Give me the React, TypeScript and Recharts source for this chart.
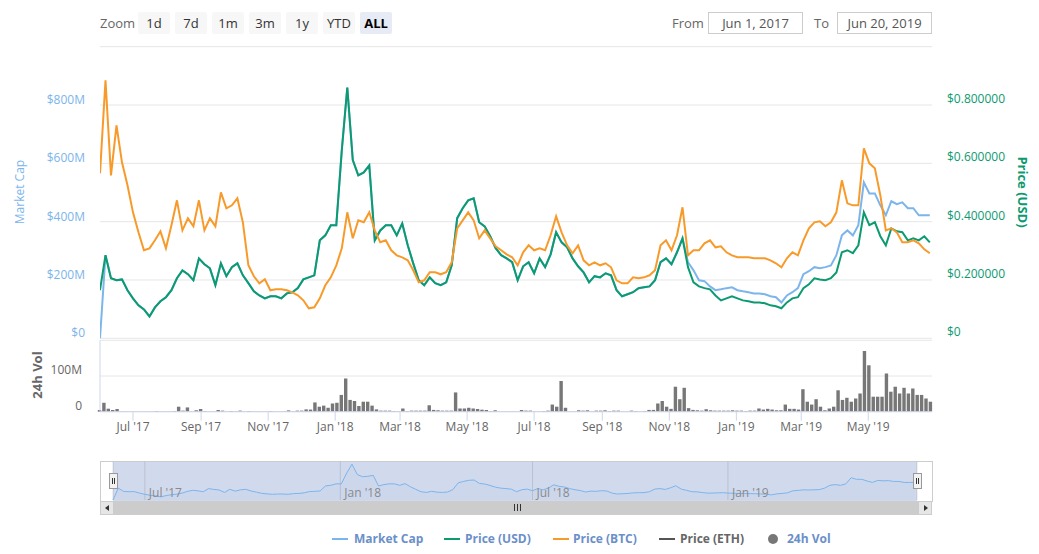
import React from 'react'
import { Area, AreaChart, Bar, BarChart, CartesianGrid, ComposedChart, Line, XAxis, YAxis } from 'recharts'

const W = 1039
const H = 554
const FONT = "'Open Sans', sans-serif"

const DAY = 86400000
const START = Date.UTC(2017, 5, 1)
const END = START + 757 * DAY

// line series read every 5 days, volume every 4 days, from Jun 1, 2017
const LINE_STEP = 5
const VOL_STEP = 4

const monthTicks = [
  Date.UTC(2017, 6, 1), Date.UTC(2017, 8, 1), Date.UTC(2017, 10, 1),
  Date.UTC(2018, 0, 1), Date.UTC(2018, 2, 1), Date.UTC(2018, 4, 1),
  Date.UTC(2018, 6, 1), Date.UTC(2018, 8, 1), Date.UTC(2018, 10, 1),
  Date.UTC(2019, 0, 1), Date.UTC(2019, 2, 1), Date.UTC(2019, 4, 1),
]
const navTicks = [Date.UTC(2017, 6, 1), Date.UTC(2018, 0, 1), Date.UTC(2018, 6, 1), Date.UTC(2019, 0, 1)]
const monthNames = ['Jan', 'Feb', 'Mar', 'Apr', 'May', 'Jun', 'Jul', 'Aug', 'Sep', 'Oct', 'Nov', 'Dec']

const mcTicks = [0, 200, 400, 600, 800, 1000]
const usdTicks = [0, 0.2, 0.4, 0.6, 0.8, 1]
const volTicks = [0, 100, 200]

const zoomButtons = ['1d', '7d', '1m', '3m', '1y', 'YTD', 'ALL']

// market cap, $M
const marketCapM = [
  0, 285, 206, 199, 202, 165, 137, 113, 99, 75,
  106, 127, 141, 165, 206, 233, 220, 199, 274, 254,
  240, 182, 257, 213, 244, 257, 216, 189, 161, 147,
  137, 144, 144, 137, 154, 158, 172, 202, 209, 216,
  336, 353, 388, 388, 645, 860, 611, 559, 569, 593,
  336, 370, 388, 388, 353, 394, 319, 257, 199, 182,
  209, 189, 182, 192, 250, 412, 446, 473, 480, 398,
  384, 350, 309, 285, 274, 261, 199, 247, 261, 223,
  274, 244, 288, 364, 329, 312, 274, 247, 226, 192,
  213, 209, 223, 216, 165, 144, 151, 158, 172, 175,
  178, 199, 261, 274, 254, 295, 343, 261, 233, 199,
  196, 178, 165, 168, 172, 175, 165, 161, 158, 154,
  154, 151, 144, 141, 123, 147, 158, 172, 220, 230,
  244, 240, 244, 250, 285, 353, 370, 353, 388, 535,
  497, 497, 456, 422, 470, 460, 466, 446, 446, 422,
  422, 422,
]

// price, USD
const priceUsd = [
  0.165, 0.285, 0.206, 0.199, 0.202, 0.165, 0.137, 0.113, 0.099, 0.075,
  0.106, 0.127, 0.141, 0.165, 0.206, 0.233, 0.220, 0.199, 0.274, 0.254,
  0.240, 0.182, 0.257, 0.213, 0.244, 0.257, 0.216, 0.189, 0.161, 0.147,
  0.137, 0.144, 0.144, 0.137, 0.154, 0.158, 0.172, 0.202, 0.209, 0.216,
  0.336, 0.353, 0.388, 0.388, 0.645, 0.860, 0.611, 0.559, 0.569, 0.593,
  0.336, 0.370, 0.388, 0.388, 0.353, 0.394, 0.319, 0.257, 0.199, 0.182,
  0.209, 0.189, 0.182, 0.192, 0.250, 0.412, 0.446, 0.473, 0.480, 0.398,
  0.384, 0.350, 0.309, 0.285, 0.274, 0.261, 0.199, 0.247, 0.261, 0.223,
  0.274, 0.244, 0.288, 0.364, 0.329, 0.312, 0.274, 0.247, 0.226, 0.192,
  0.213, 0.209, 0.223, 0.216, 0.165, 0.144, 0.151, 0.158, 0.172, 0.175,
  0.178, 0.199, 0.261, 0.274, 0.254, 0.295, 0.343, 0.244, 0.192, 0.178,
  0.172, 0.168, 0.147, 0.130, 0.137, 0.144, 0.137, 0.130, 0.127, 0.123,
  0.123, 0.120, 0.113, 0.110, 0.103, 0.123, 0.137, 0.141, 0.172, 0.185,
  0.206, 0.202, 0.199, 0.206, 0.226, 0.295, 0.302, 0.292, 0.319, 0.432,
  0.388, 0.398, 0.350, 0.319, 0.377, 0.367, 0.364, 0.336, 0.343, 0.336,
  0.350, 0.329,
]

// price, satoshi
const priceBtcSats = [
  7072, 11058, 6986, 9129, 7543, 6558, 5400, 4543, 3772, 3857,
  4200, 4586, 3857, 4843, 5915, 4629, 5143, 4800, 5915, 4629,
  5143, 4800, 6258, 5572, 5700, 6000, 4972, 3129, 2657, 2357,
  2529, 2057, 2100, 2100, 2057, 1972, 1843, 1629, 1286, 1329,
  1714, 2272, 2614, 3129, 3857, 5400, 4286, 5057, 4972, 5400,
  4629, 4115, 4200, 3772, 3557, 3472, 3343, 2914, 2400, 2486,
  2829, 2829, 2743, 2829, 3257, 4715, 5057, 5400, 5057, 4286,
  4629, 4286, 3943, 3772, 3600, 3472, 3129, 3686, 3986, 3772,
  3857, 3772, 4415, 5229, 4543, 3986, 3643, 3986, 3343, 3129,
  3257, 3129, 3215, 3043, 2486, 2357, 2357, 2614, 2572, 2614,
  2700, 2914, 3986, 4200, 3772, 4415, 5615, 3557, 3772, 3772,
  4072, 4200, 3900, 3943, 3686, 3557, 3472, 3472, 3472, 3429,
  3429, 3429, 3343, 3215, 3043, 3429, 3686, 3557, 4200, 4715,
  4972, 5015, 4800, 4972, 5400, 6772, 5786, 5700, 5700, 8143,
  7500, 7286, 6129, 4629, 4715, 4543, 4115, 4115, 4200, 4072,
  3815, 3643,
]

// 24h volume, $M
const volumeM = [
  4.7, 25, 8.4, 4.7, 7.5, 0.5, 0.5, 0.3, 0.3, 0.3,
  0.3, 0.5, 0.5, 1.9, 0.5, 0.5, 0.5, 1.9, 14, 3,
  12, 0.5, 4, 7.5, 2, 0.5, 0.5, 4.7, 3, 0.5,
  2, 1, 3, 0.5, 2, 0.5, 0.5, 0.5, 0.5, 2,
  0.5, 0.5, 1, 3.7, 1, 3, 3, 6.5, 6, 26,
  14, 17, 11, 23, 25, 47, 93, 33, 30, 16,
  28, 28, 17, 6.5, 3, 3, 3, 2, 1, 9,
  2, 3, 3, 3, 3, 18, 5, 4, 3, 3,
  3, 54, 9, 9, 11, 9, 7.5, 5.6, 4.7, 2,
  4, 0.5, 0.5, 0.5, 0.5, 0.5, 4.7, 3, 3, 0.5,
  0.5, 2, 3, 20, 14, 86, 11, 0.5, 0.5, 4,
  3, 4, 1, 3, 3, 4, 2, 3, 3, 0.5,
  0.5, 3, 2, 0.5, 2, 5, 5, 23, 30, 14,
  8, 70, 35, 67, 10, 5, 4, 3, 7, 4,
  3, 3, 3, 3, 4, 3, 3, 2, 3, 3,
  9, 6, 8, 6, 4, 4, 20, 8, 8, 6,
  63, 28, 20, 35, 14, 4, 9, 14, 60, 33,
  39, 28, 37, 51, 170, 130, 42, 42, 42, 107,
  56, 70, 51, 67, 51, 65, 47, 47, 37, 28,
]

const COLORS = {
  mc: '#7cb5ec',
  usd: '#0c9a70',
  btc: '#f89a2a',
  eth: '#555555',
  vol: '#777777',
  legend: '#6b8fc9',
}

const lineData = priceUsd.map((usd, i) => ({
  t: START + i * LINE_STEP * DAY,
  mc: marketCapM[i],
  usd,
  btc: priceBtcSats[i],
}))
const volData = volumeM.map((vol, i) => ({ t: START + i * VOL_STEP * DAY, vol }))

const fmtMonth = (t: number) => {
  const d = new Date(t)
  return `${monthNames[d.getUTCMonth()]} '${String(d.getUTCFullYear()).slice(2)}`
}

const mcTick = (p: any) => {
  const v = p.payload.value
  if (v === 1000) return <g />
  return (
    <text x={p.x} y={p.y - 1} textAnchor="end" fill={COLORS.mc} fontSize={12} fontFamily={FONT}>
      {v === 0 ? '$0' : `$${v}M`}
    </text>
  )
}

const usdTick = (p: any) => {
  const v = p.payload.value
  if (v === 1) return <g />
  return (
    <text x={p.x} y={p.y - 2} textAnchor="start" fill={COLORS.usd} fontSize={12} fontFamily={FONT}>
      {v === 0 ? '$0' : `$${v.toFixed(6)}`}
    </text>
  )
}

const volTick = (p: any) => {
  const v = p.payload.value
  if (v === 200) return <g />
  return (
    <text x={p.x} y={p.y - 2} textAnchor="end" fill="#666" fontSize={12} fontFamily={FONT}>
      {v === 0 ? '0' : `${v}M`}
    </text>
  )
}

const xTick = (p: any) => (
  <text x={p.x} y={p.y} dy={8.5} textAnchor="middle" fill="#666" fontSize={12} fontFamily={FONT}>
    {fmtMonth(p.payload.value)}
  </text>
)

const navTick = (p: any) => (
  <text x={p.x + 4} y={p.y - 3} textAnchor="start" fill="#8a8a8a" fontSize={12} fontFamily={FONT}>
    {fmtMonth(p.payload.value)}
  </text>
)

const layer: React.CSSProperties = { position: 'absolute', left: 0, top: 0 }

function Handle({ x }: { x: number }) {
  return (
    <div style={{ position: 'absolute', left: x - 4, top: 473, width: 7, height: 14, background: '#f2f2f2', border: '1px solid #999' }}>
      <div style={{ position: 'absolute', left: 2, top: 4, width: 1, height: 6, background: '#333' }} />
      <div style={{ position: 'absolute', left: 4, top: 4, width: 1, height: 6, background: '#333' }} />
    </div>
  )
}

function RotatedLabel({ x, y, angle, color, bold, size, text }: any) {
  return (
    <div
      style={{
        position: 'absolute', left: x, top: y, transform: `translate(-50%, -50%) rotate(${angle}deg)`,
        color, fontWeight: bold ? 700 : 400, fontSize: size, whiteSpace: 'nowrap', lineHeight: 1,
      }}
    >
      {text}
    </div>
  )
}

const legendItems = [
  { label: 'Market Cap', color: COLORS.mc, x: 332, tx: 354, text: COLORS.legend, kind: 'line' },
  { label: 'Price (USD)', color: COLORS.usd, x: 444, tx: 465, text: COLORS.legend, kind: 'line' },
  { label: 'Price (BTC)', color: COLORS.btc, x: 553, tx: 573, text: COLORS.legend, kind: 'line' },
  { label: 'Price (ETH)', color: COLORS.eth, x: 659, tx: 680, text: '#666', kind: 'line' },
  { label: '24h Vol', color: COLORS.vol, x: 768, tx: 787, text: COLORS.legend, kind: 'dot' },
]

export default function App() {
  return (
    <div style={{ position: 'absolute', left: 0, top: 0, width: W, height: H, fontFamily: FONT, background: '#fff', overflow: 'hidden' }}>
      {/* range selector */}
      <div style={{ position: 'absolute', left: 100, top: 13, fontSize: 13, color: '#666', lineHeight: '20px' }}>Zoom</div>
      {zoomButtons.map((b, i) => (
        <div
          key={b}
          style={{
            position: 'absolute', left: 138 + i * 37, top: 12, width: 32, height: 22, lineHeight: '22px',
            textAlign: 'center', fontSize: 13, borderRadius: 2,
            background: b === 'ALL' ? '#e6ebf5' : '#f7f7f7',
            color: b === 'ALL' ? '#000' : '#333', fontWeight: b === 'ALL' ? 700 : 400,
          }}
        >
          {b}
        </div>
      ))}
      <div style={{ position: 'absolute', left: 672, top: 13, fontSize: 13, color: '#666', lineHeight: '20px' }}>From</div>
      <div style={{ position: 'absolute', left: 708, top: 12, width: 93, height: 20, border: '1px solid #ccc', fontSize: 13, color: '#555', textAlign: 'center', lineHeight: '20px' }}>Jun 1, 2017</div>
      <div style={{ position: 'absolute', left: 814, top: 13, fontSize: 13, color: '#666', lineHeight: '20px' }}>To</div>
      <div style={{ position: 'absolute', left: 837, top: 12, width: 93, height: 20, border: '1px solid #ccc', fontSize: 13, color: '#555', textAlign: 'center', lineHeight: '20px' }}>Jun 20, 2019</div>

      {/* navigator background */}
      <div style={{ position: 'absolute', left: 100, top: 461, width: 831, height: 40, borderTop: '1px solid #ccc', borderLeft: '1px solid #ccc', borderRight: '1px solid #ccc' }} />
      <div style={{ position: 'absolute', left: 113, top: 462, width: 804, height: 39, background: 'rgba(102,133,194,0.3)' }} />

      {/* main pane */}
      <div style={layer}>
        <ComposedChart width={W} height={H} data={lineData} margin={{ top: 46.7, right: 37, bottom: 215.7, left: 40 }}>
          <CartesianGrid yAxisId="mc" vertical={false} stroke="#e6e6e6" />
          <XAxis dataKey="t" type="number" domain={[START, END]} hide allowDataOverflow />
          <YAxis yAxisId="mc" orientation="left" width={60} domain={[0, 1000]} ticks={mcTicks} axisLine={false} tickLine={false} tickSize={0} tickMargin={15} tick={mcTick} />
          <YAxis yAxisId="usd" orientation="right" width={70} domain={[0, 1]} ticks={usdTicks} axisLine={false} tickLine={false} tickSize={0} tickMargin={15} tick={usdTick} />
          <YAxis yAxisId="btc" orientation="right" hide width={0} domain={[0, 12500]} />
          <Line yAxisId="mc" dataKey="mc" stroke={COLORS.mc} strokeWidth={2} dot={false} activeDot={false} isAnimationActive={false} />
          <Line yAxisId="usd" dataKey="usd" stroke={COLORS.usd} strokeWidth={2} dot={false} activeDot={false} isAnimationActive={false} />
          <Line yAxisId="btc" dataKey="btc" stroke={COLORS.btc} strokeWidth={2} dot={false} activeDot={false} isAnimationActive={false} />
        </ComposedChart>
      </div>

      {/* volume pane */}
      <div style={layer}>
        <BarChart width={W} height={H} data={volData} margin={{ top: 340.3, right: 107, bottom: 112.3, left: 40 }}>
          <CartesianGrid vertical={false} stroke="#e6e6e6" />
          <XAxis
            dataKey="t" type="number" domain={[START, END]} ticks={monthTicks} interval={0} height={30}
            axisLine={{ stroke: '#ccd6eb' }} tickLine={{ stroke: '#ccd6eb' }} tickSize={9} tickMargin={2} tick={xTick}
          />
          <YAxis width={60} domain={[0, 200]} ticks={volTicks} axisLine={{ stroke: '#ccd6eb' }} tickLine={false} tickSize={0} tickMargin={18} tick={volTick} />
          <Bar dataKey="vol" fill={COLORS.vol} barSize={3.4} isAnimationActive={false} />
        </BarChart>
      </div>

      {/* navigator */}
      <div style={layer}>
        <AreaChart width={W} height={H} data={lineData} margin={{ top: 461.7, right: 122, bottom: 53, left: 113 }}>
          <CartesianGrid horizontal={false} stroke="rgba(0,0,0,0.12)" />
          <XAxis dataKey="t" type="number" domain={[START, END]} ticks={navTicks} interval={0} height={1} axisLine={false} tickLine={false} tickSize={0} tickMargin={0} tick={navTick} />
          <YAxis hide domain={[0, 920]} />
          <Area dataKey="mc" stroke={COLORS.mc} strokeWidth={1} fill={COLORS.mc} fillOpacity={0.05} dot={false} activeDot={false} isAnimationActive={false} />
        </AreaChart>
      </div>
      <Handle x={113} />
      <Handle x={917} />

      {/* scrollbar */}
      <div style={{ position: 'absolute', left: 100, top: 501, width: 832, height: 14, background: '#cccccc' }} />
      <div style={{ position: 'absolute', left: 100, top: 501, width: 12, height: 12, background: '#e6e6e6', border: '1px solid #ccc' }}>
        <div style={{ position: 'absolute', left: 4, top: 3, width: 0, height: 0, borderTop: '3px solid transparent', borderBottom: '3px solid transparent', borderRight: '4px solid #333' }} />
      </div>
      <div style={{ position: 'absolute', left: 918, top: 501, width: 12, height: 12, background: '#e6e6e6', border: '1px solid #ccc' }}>
        <div style={{ position: 'absolute', left: 5, top: 3, width: 0, height: 0, borderTop: '3px solid transparent', borderBottom: '3px solid transparent', borderLeft: '4px solid #333' }} />
      </div>
      {[514, 517, 520].map((x) => (
        <div key={x} style={{ position: 'absolute', left: x, top: 504, width: 1, height: 7, background: '#333' }} />
      ))}

      {/* axis titles */}
      <RotatedLabel x={20} y={192} angle={-90} color={COLORS.mc} size={12} text="Market Cap" />
      <RotatedLabel x={1022} y={192} angle={90} color={COLORS.usd} bold size={13} text="Price (USD)" />
      <RotatedLabel x={37} y={375} angle={-90} color="#666" bold size={13} text="24h Vol" />

      {/* legend */}
      {legendItems.map((it) => (
        <React.Fragment key={it.label}>
          {it.kind === 'line' ? (
            <div style={{ position: 'absolute', left: it.x, top: 538, width: 16, height: 2, background: it.color }} />
          ) : (
            <div style={{ position: 'absolute', left: it.x, top: 534, width: 10, height: 10, borderRadius: 5, background: it.color }} />
          )}
          <div style={{ position: 'absolute', left: it.tx, top: 530, fontSize: 12, fontWeight: 700, color: it.text, lineHeight: '18px', whiteSpace: 'nowrap' }}>
            {it.label}
          </div>
        </React.Fragment>
      ))}
    </div>
  )
}
